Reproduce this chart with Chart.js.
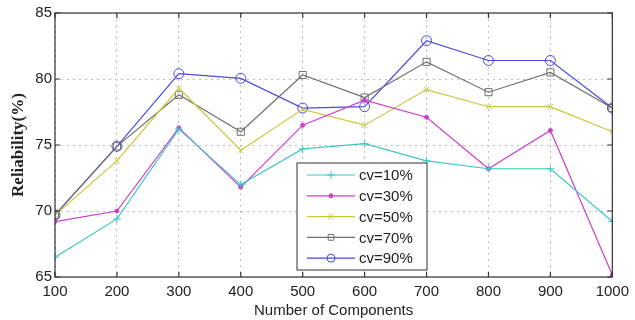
<!DOCTYPE html>
<html lang="en">
<head>
<meta charset="utf-8">
<title>Reliability</title>
<script src="https://cdn.jsdelivr.net/npm/chart.js@4.4.0/dist/chart.umd.min.js"></script>
<style>
  html, body { margin: 0; padding: 0; background: #fff; }
  #wrap { width: 635px; height: 320px; }
</style>
</head>
<body>
<div id="wrap"><canvas id="chart" width="635" height="320"></canvas></div>
<script>
// number of components
var components = [100, 200, 300, 400, 500, 600, 700, 800, 900, 1000];

// reliability (%) per cv
var cv10 = [66.5, 69.4, 76.2, 72.0, 74.7, 75.1, 73.8, 73.2, 73.2, 69.2];
var cv30 = [69.2, 70.0, 76.3, 71.8, 76.5, 78.4, 77.1, 73.2, 76.1, 65.15];
var cv50 = [69.7, 73.8, 79.3, 74.6, 77.7, 76.5, 79.2, 77.9, 77.9, 76.0];
var cv70 = [69.7, 74.9, 78.8, 76.0, 80.3, 78.6, 81.3, 79.0, 80.5, 77.8];
var cv90 = [69.7, 74.9, 80.4, 80.05, 77.8, 77.9, 82.9, 81.4, 81.4, 77.8];

var labels = ["cv=10%", "cv=30%", "cv=50%", "cv=70%", "cv=90%"];
var yTicks = [65, 70, 75, 80, 85];

var NONE = "rgba(0,0,0,0)";

function pts(arr) {
  return arr.map(function (v, i) { return { x: components[i], y: v }; });
}

function serie(label, arr, color, style, radius, fill) {
  return {
    label: label,
    data: pts(arr),
    borderColor: color,
    backgroundColor: fill ? color : NONE,
    pointStyle: style,
    pointRadius: radius,
    pointBorderWidth: 1,
    pointBorderColor: color,
    pointBackgroundColor: fill ? color : NONE,
    borderWidth: 1.2,
    tension: 0,
    fill: false
  };
}

var series = [
  serie(labels[0], cv10, "#3fc7c7", "cross", 4, false),
  serie(labels[1], cv30, "#cc3fcc", "circle", 2, true),
  serie(labels[2], cv50, "#c9c83c", "crossRot", 4, false),
  serie(labels[3], cv70, "#6e6e6e", "rect", 5, false),
  serie(labels[4], cv90, "#4a4ae0", "circle", 5, false)
];

// frame, inward ticks and the boxed legend
var frame = {
  id: "frame",
  afterDatasetsDraw: function (chart) {
    var ctx = chart.ctx, a = chart.chartArea;
    var xs = chart.scales.x, ys = chart.scales.y;
    ctx.save();
    ctx.strokeStyle = "#333";
    ctx.lineWidth = 1.2;
    ctx.strokeRect(a.left, a.top, a.right - a.left, a.bottom - a.top);
    ctx.beginPath();
    components.forEach(function (c) {
      var px = xs.getPixelForValue(c);
      ctx.moveTo(px, a.bottom); ctx.lineTo(px, a.bottom - 5);
      ctx.moveTo(px, a.top); ctx.lineTo(px, a.top + 5);
    });
    yTicks.forEach(function (t) {
      var py = ys.getPixelForValue(t);
      ctx.moveTo(a.left, py); ctx.lineTo(a.left + 5, py);
      ctx.moveTo(a.right, py); ctx.lineTo(a.right - 5, py);
    });
    ctx.stroke();

    // legend
    var bx = 297, by = 163, bw = 130, bh = 107;
    ctx.fillStyle = "#fff";
    ctx.fillRect(bx, by, bw, bh);
    ctx.strokeStyle = "#333";
    ctx.lineWidth = 1;
    ctx.strokeRect(bx, by, bw, bh);
    ctx.font = "15px 'Liberation Sans', Arial, sans-serif";
    ctx.textBaseline = "middle";
    chart.data.datasets.forEach(function (ds, i) {
      var ly = by + 12 + i * 20.8;
      ctx.strokeStyle = ds.borderColor;
      ctx.lineWidth = 1.2;
      ctx.beginPath();
      ctx.moveTo(bx + 10, ly); ctx.lineTo(bx + 58, ly);
      ctx.stroke();
      ctx.fillStyle = ds.pointBackgroundColor;
      ctx.strokeStyle = ds.borderColor;
      ctx.lineWidth = 1;
      Chart.helpers.drawPoint(ctx, {
        pointStyle: ds.pointStyle,
        radius: Math.min(ds.pointRadius, 4),
        borderWidth: 1,
        rotation: 0
      }, bx + 34, ly);
      ctx.fillStyle = "#222";
      ctx.fillText(ds.label, bx + 62, ly + 1);
    });
    ctx.restore();
  }
};

new Chart(document.getElementById("chart"), {
  type: "line",
  data: { datasets: series },
  options: {
    responsive: false,
    animation: false,
    layout: { padding: { top: 13, right: 17, left: 0, bottom: 0 } },
    plugins: {
      legend: { display: false },
      tooltip: { enabled: false }
    },
    scales: {
      x: {
        type: "linear",
        min: 100,
        max: 1000,
        afterFit: function (s) { s.height = 43; },
        afterBuildTicks: function (s) {
          s.ticks = components.map(function (v) { return { value: v }; });
        },
        border: { display: false, dash: [2, 4] },
        grid: {
          color: "#bdbdbd",
          lineWidth: 1,
          drawTicks: false
        },
        ticks: {
          color: "#222",
          padding: 6,
          maxRotation: 0,
          autoSkip: false,
          callback: function (v) { return String(v); },
          font: { family: "'Liberation Sans', Arial, sans-serif", size: 15 }
        },
        title: {
          display: true,
          text: "Number of Components",
          color: "#222",
          padding: { top: 0, bottom: 0 },
          font: { family: "'Liberation Sans', Arial, sans-serif", size: 15 }
        }
      },
      y: {
        min: 65,
        max: 85,
        afterFit: function (s) { s.width = 55; },
        afterBuildTicks: function (s) {
          s.ticks = yTicks.map(function (v) { return { value: v }; });
        },
        border: { display: false, dash: [2, 4] },
        grid: {
          color: "#bdbdbd",
          lineWidth: 1,
          drawTicks: false
        },
        ticks: {
          color: "#222",
          padding: 3,
          font: { family: "'Liberation Sans', Arial, sans-serif", size: 15 }
        },
        title: {
          display: true,
          text: "Reliability(%)",
          color: "#222",
          padding: { top: 8, bottom: 0 },
          font: { family: "'Liberation Serif', 'Times New Roman', serif", size: 17, weight: "bold" }
        }
      }
    }
  },
  plugins: [frame]
});
</script>
</body>
</html>
